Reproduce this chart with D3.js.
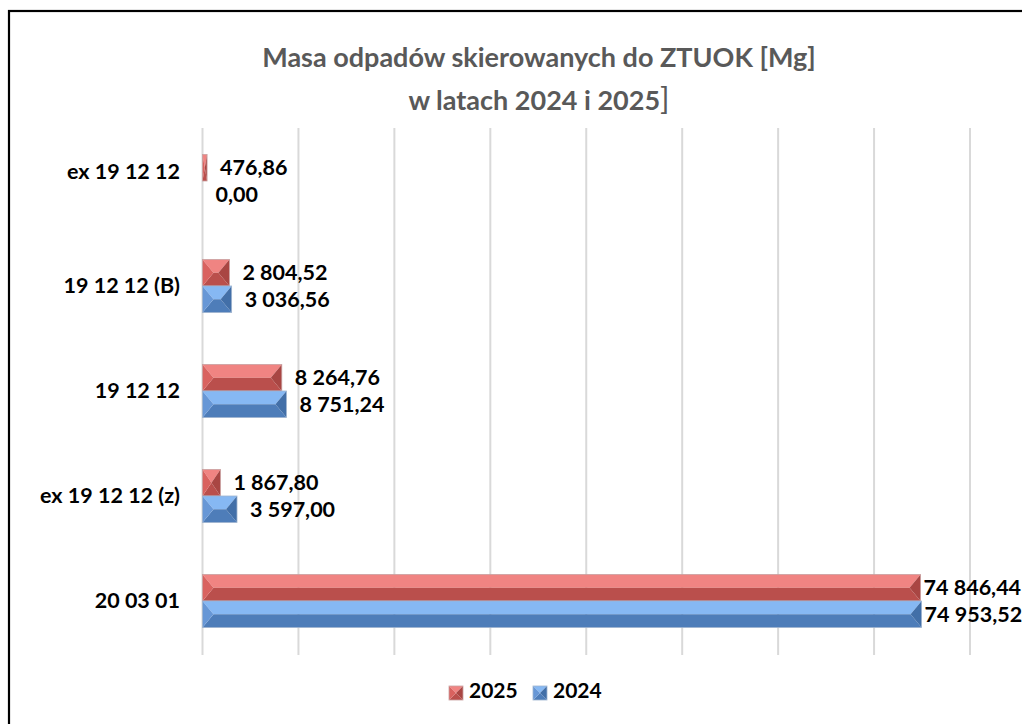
<!DOCTYPE html>
<html><head><meta charset="utf-8">
<script src="https://cdn.jsdelivr.net/npm/d3@7"></script>
<style>body{margin:0;background:#fff;}svg{display:block;}</style>
</head><body>
<svg id="chart" width="1022" height="724"></svg>
<script>
const categories = ["ex 19 12 12", "19 12 12 (B)", "19 12 12", "ex 19 12 12 (z)", "20 03 01"];
const seriesNames = ["2025", "2024"];
const values2025 = [476.86, 2804.52, 8264.76, 1867.80, 74846.44];
const values2024 = [0.00, 3036.56, 8751.24, 3597.00, 74953.52];
const xTicks = [0, 10000, 20000, 30000, 40000, 50000, 60000, 70000, 80000];
const titleLine1 = "Masa odpadów skierowanych do ZTUOK [Mg]";
const titleLine2 = "w latach 2024 i 2025";

const svg = d3.select("#chart");
const font = "Lato, 'Open Sans', sans-serif";
const loc = d3.formatLocale({decimal: ",", thousands: " ", grouping: [3]});
const fmt = loc.format(",.2f");

const palette = {
  "2025": {top: "#f08482", bottom: "#ba4f4c", left: "#d9625f", right: "#a94643", edge: "#c9a0a0"},
  "2024": {top: "#86b8f3", bottom: "#4e7db9", left: "#6797d6", right: "#426fa8", edge: "#9fb4cf"}
};

// frame
svg.append("rect").attr("x", 9).attr("y", 11).attr("width", 1100).attr("height", 800)
  .attr("fill", "#fff").attr("stroke", "#000").attr("stroke-width", 2.2);

const x = d3.scaleLinear().domain([0, 80000]).range([202.5, 970]);
const y = d3.scaleBand().domain(categories).range([128.5, 653.5]).paddingInner(0.495).paddingOuter(0.2475);
const ys = d3.scaleBand().domain(seriesNames).range([0, y.bandwidth()]);

// gridlines
svg.append("g").selectAll("line").data(xTicks).join("line")
  .attr("x1", d => x(d)).attr("x2", d => x(d))
  .attr("y1", 128).attr("y2", 655)
  .attr("stroke", "#d9d9d9").attr("stroke-width", 2);

// title
const t = svg.append("text").attr("text-anchor", "middle").attr("fill", "#595959")
  .style("font-family", font).style("font-weight", "bold").style("font-size", "27px");
t.append("tspan").attr("x", 539).attr("y", 67).text(titleLine1);
const t2 = t.append("tspan").attr("x", 539).attr("y", 110);
t2.append("tspan").text(titleLine2);
t2.append("tspan").style("font-weight", "normal").style("font-size", "31px").text("]");

// category labels
svg.append("g").selectAll("text").data(categories).join("text")
  .attr("x", 180).attr("y", (d, i) => y(d) + y.bandwidth() / 2 + (i === 0 ? -8 : 1))
  .attr("text-anchor", "end").attr("dominant-baseline", "middle")
  .style("font-family", font).style("font-weight", "bold").style("font-size", "21.5px")
  .attr("fill", "#000").text(d => d);

// bevelled bar
function bevelBar(g, x0, y0, w, h, col) {
  const x1 = x0 + w, y1 = y0 + h, ym = y0 + h / 2;
  const b = Math.min(11, w / 2);
  if (w <= 0) return;
  const P = pts => pts.map(p => p.join(",")).join(" ");
  g.append("polygon").attr("points", P([[x0, y0], [x1, y0], [x1 - b, ym], [x0 + b, ym]])).attr("fill", col.top);
  g.append("polygon").attr("points", P([[x0, y1], [x1, y1], [x1 - b, ym], [x0 + b, ym]])).attr("fill", col.bottom);
  g.append("polygon").attr("points", P([[x0, y0], [x0 + b, ym], [x0, y1]])).attr("fill", col.left);
  g.append("polygon").attr("points", P([[x1, y0], [x1 - b, ym], [x1, y1]])).attr("fill", col.right);
  g.append("rect").attr("x", x0).attr("y", y0).attr("width", w).attr("height", h)
    .attr("fill", "none").attr("stroke", col.edge).attr("stroke-width", 0.8);
}

const series = [
  {name: "2025", values: values2025},
  {name: "2024", values: values2024}
];

const bars = svg.append("g");
series.forEach(s => {
  s.values.forEach((v, i) => {
    const c = categories[i];
    const y0 = y(c) + ys(s.name);
    bevelBar(bars, x(0), y0, x(v) - x(0), ys.bandwidth(), palette[s.name]);
  });
});

// value labels
const labels = svg.append("g");
series.forEach(s => {
  s.values.forEach((v, i) => {
    const c = categories[i];
    const yc = y(c) + ys(s.name) + ys.bandwidth() / 2 + 2;
    const w = x(v) - x(0);
    const dx = w > 400 ? 3 : 13;
    labels.append("text").attr("x", x(v) + dx).attr("y", yc)
      .attr("dominant-baseline", "middle")
      .style("font-family", font).style("font-weight", "bold").style("font-size", "21.5px")
      .attr("fill", "#000").text(fmt(v));
  });
});

// legend
const legend = svg.append("g");
const legX = [449, 533];
seriesNames.forEach((n, i) => {
  const gx = legX[i];
  bevelBar(legend, gx, 686, 14, 14, palette[n]);
  legend.append("text").attr("x", gx + 20).attr("y", 693)
    .attr("dominant-baseline", "middle")
    .style("font-family", font).style("font-weight", "bold").style("font-size", "21px")
    .attr("fill", "#000").text(n);
});
</script>
</body></html>
